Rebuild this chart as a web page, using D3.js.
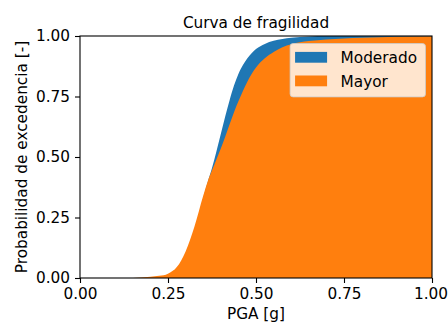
<!DOCTYPE html>
<html>
<head>
<meta charset="utf-8">
<script src="https://cdn.jsdelivr.net/npm/d3@7"></script>
<style>
  html, body { margin: 0; padding: 0; background: #fff; }
  svg { display: block; }
  text { font-family: "DejaVu Sans", sans-serif; fill: #000; }
</style>
</head>
<body>
<svg id="chart" width="448" height="322"></svg>
<script>
// Peak ground acceleration grid [g]
const pga = [0, 0.1, 0.15, 0.2, 0.225, 0.25, 0.275, 0.3, 0.325, 0.35, 0.3625, 0.375,
             0.3875, 0.4, 0.4125, 0.425, 0.4375, 0.45, 0.4625, 0.475, 0.4875, 0.5,
             0.525, 0.55, 0.575, 0.6, 0.65, 0.7, 0.75, 0.8, 0.9, 1.0];
// Probability of exceedance, moderate damage state
const moderado = [0, 0, 0, 0.002, 0.005, 0.013, 0.035, 0.09, 0.19, 0.33, 0.395, 0.455,
                  0.523, 0.595, 0.667, 0.735, 0.795, 0.843, 0.879, 0.907, 0.929, 0.946,
                  0.967, 0.98, 0.988, 0.993, 0.998, 0.9995, 1, 1, 1, 1];
// Probability of exceedance, major damage state
const mayor = [0, 0, 0.0005, 0.005, 0.009, 0.018, 0.045, 0.11, 0.212, 0.34, 0.398, 0.445,
               0.49, 0.535, 0.584, 0.635, 0.685, 0.73, 0.772, 0.81, 0.843, 0.87,
               0.908, 0.934, 0.954, 0.966, 0.979, 0.986, 0.99, 0.993, 0.997, 0.999];

const seriesNames = ["Moderado", "Mayor"];
const seriesColors = ["#1f77b4", "#ff7f0e"];
const xTicks = [0, 0.25, 0.5, 0.75, 1.0];
const yTicks = [0, 0.25, 0.5, 0.75, 1.0];

const title = "Curva de fragilidad";
const xLabel = "PGA [g]";
const yLabel = "Probabilidad de excedencia [-]";

const W = 448, H = 322;
const margin = { top: 36, right: 16, bottom: 44, left: 80 };
const fs = 15.3;

const svg = d3.select("#chart");
const x = d3.scaleLinear().domain([0, 1]).range([margin.left, W - margin.right]);
const y = d3.scaleLinear().domain([0, 1]).range([H - margin.bottom, margin.top]);

const series = [moderado, mayor];

// filled areas under each curve, drawn in series order
const plot = svg.append("g");
series.forEach((vals, i) => {
  const area = d3.area()
    .x((d, j) => x(pga[j]))
    .y0(y(0))
    .y1(d => y(d))
    .curve(d3.curveMonotoneX);
  plot.append("path")
    .datum(vals)
    .attr("d", area)
    .attr("fill", seriesColors[i]);
});

// axes
const fmt = d3.format(".2f");
const xAxis = svg.append("g")
  .attr("transform", `translate(0,${y(0)})`)
  .call(d3.axisBottom(x).tickValues(xTicks).tickFormat(fmt).tickSize(5).tickPadding(5).tickSizeOuter(0));
const yAxis = svg.append("g")
  .attr("transform", `translate(${x(0)},0)`)
  .call(d3.axisLeft(y).tickValues(yTicks).tickFormat(fmt).tickSize(5).tickPadding(5).tickSizeOuter(0));
[xAxis, yAxis].forEach(g => {
  g.select(".domain").remove();
  g.selectAll("line").attr("stroke", "#000").attr("stroke-width", 1.1);
  g.selectAll("text").style("font-size", fs + "px").attr("fill", "#000")
    .style("font-family", "'DejaVu Sans', sans-serif");
});
// keep the last x tick label inside the canvas edge
xAxis.selectAll(".tick text").filter(d => d === 1).attr("dx", "-1.5");

// frame
svg.append("rect")
  .attr("x", x(0)).attr("y", y(1))
  .attr("width", x(1) - x(0)).attr("height", y(0) - y(1))
  .attr("fill", "none").attr("stroke", "#000").attr("stroke-width", 1.1);

// title and axis labels
svg.append("text")
  .attr("x", (x(0) + x(1)) / 2).attr("y", 28)
  .attr("text-anchor", "middle").style("font-size", fs + "px")
  .text(title);
svg.append("text")
  .attr("x", (x(0) + x(1)) / 2).attr("y", 319)
  .attr("text-anchor", "middle").style("font-size", fs + "px")
  .text(xLabel);
svg.append("text")
  .attr("transform", `translate(26.5,${(y(0) + y(1)) / 2}) rotate(-90)`)
  .attr("text-anchor", "middle").style("font-size", fs + "px")
  .text(yLabel);

// legend
const legend = svg.append("g");
const legRight = x(1) - 6.5;
const legTop = y(1) + 7.5;
const rowGap = 23.6;
const patchW = 32, patchH = 10.8;
const labels = legend.selectAll("text.leg")
  .data(seriesNames).enter().append("text")
  .attr("class", "leg")
  .style("font-size", fs + "px")
  .text(d => d);
let maxW = 0;
labels.each(function () { maxW = Math.max(maxW, this.getComputedTextLength()); });
const boxW = 5 + patchW + 13.5 + maxW + 8.5;
const boxH = 53.4;
const legLeft = legRight - boxW;
legend.insert("rect", ":first-child")
  .attr("x", legLeft).attr("y", legTop)
  .attr("width", boxW).attr("height", boxH)
  .attr("rx", 3).attr("ry", 3)
  .attr("fill", "#fff").attr("fill-opacity", 0.8)
  .attr("stroke", "#cccccc").attr("stroke-opacity", 0.8).attr("stroke-width", 1);
seriesNames.forEach((name, i) => {
  legend.append("rect")
    .attr("x", legLeft + 5).attr("y", legTop + 8.4 + i * rowGap)
    .attr("width", patchW).attr("height", patchH)
    .attr("fill", seriesColors[i]);
});
labels
  .attr("x", legLeft + 5 + patchW + 13.5)
  .attr("y", (d, i) => legTop + 8.4 + i * rowGap + 11.4);
</script>
</body>
</html>
